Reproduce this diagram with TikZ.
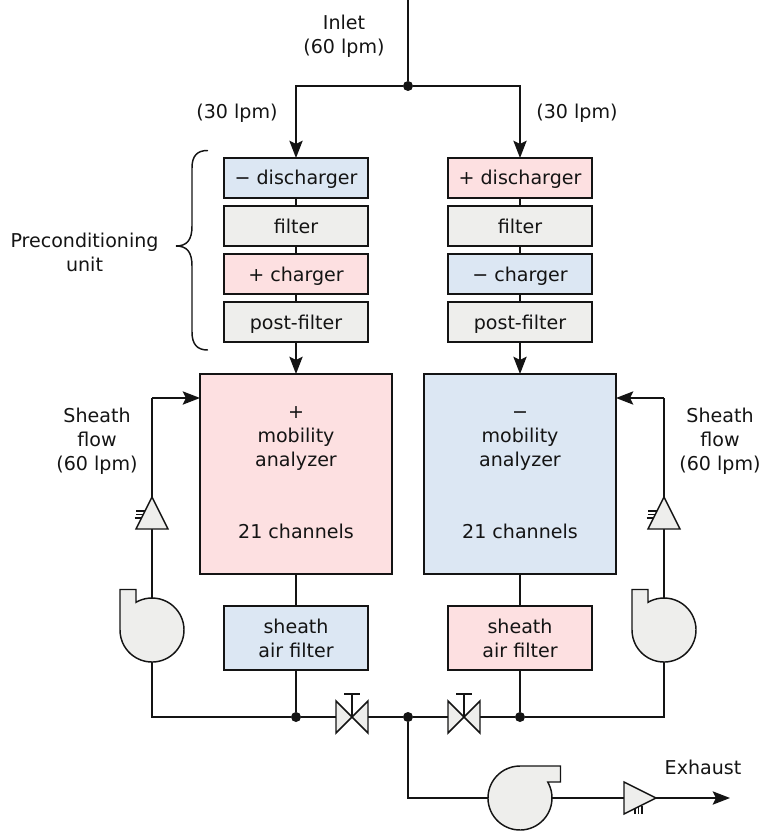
\documentclass[tikz,border=0pt]{standalone}
\usepackage{fontspec}
\setmainfont{DejaVu Sans}
\usetikzlibrary{arrows.meta,calc}
\definecolor{cblue}{HTML}{DCE7F3}
\definecolor{cpink}{HTML}{FDE0E1}
\definecolor{cgray}{HTML}{EEEEEC}
\definecolor{cink}{HTML}{141414}
\tikzset{
  every node/.style={font=\fontsize{14.3}{18}\selectfont,text=cink},
  line/.style={draw=cink,line width=1.1pt},
  flow/.style={line,-{Stealth[length=13pt,width=10pt,inset=2.5pt]}},
  boxbase/.style={line,minimum width=108pt,inner sep=0pt,outer sep=0pt},
  stage/.style={boxbase,minimum height=30pt,text height=11pt,text depth=0.5pt},
  sheathbox/.style={boxbase,minimum height=48pt,align=center},
  analyzer/.style={line,minimum width=144pt,minimum height=150pt,inner sep=0pt,outer sep=0pt,align=center},
  note/.style={align=center,inner sep=0pt},
  junction/.style={circle,fill=cink,draw=none,minimum size=7.5pt,inner sep=0pt,outer sep=0pt},
  device/.style={line,fill=cgray,line join=miter},
  thin tick/.style={draw=cink,line width=0.8pt},
}
\begin{document}
\begin{tikzpicture}[x=0.75pt,y=-0.75pt]
\useasboundingbox (0,0) rectangle (764,831);
% key points
\coordinate (top) at (408,0);
\coordinate (split) at (408,86);
\coordinate (pumpL) at (152,630);
\coordinate (pumpR) at (664,630);
\coordinate (pumpX) at (520,798);
\coordinate (fanL) at (152,513);
\coordinate (fanR) at (664,513);
\coordinate (fanX) at (640,798);
\coordinate (valveL) at (352,717);
\coordinate (valveR) at (464,717);
\coordinate (end) at (730,798);
\coordinate (elbowSL) at (152,398);
\coordinate (elbowSR) at (664,398);
\coordinate (inL) at (200,398);
\coordinate (inR) at (616,398);
\coordinate (elbowXa) at (408,798);
% stages
\node[stage,fill=cblue] (a1) at (296,178) {− discharger};
\node[stage,fill=cgray] (a2) at (296,226) {filter};
\node[stage,fill=cpink] (a3) at (296,274) {+ charger};
\node[stage,fill=cgray] (a4) at (296,322) {post-filter};
\node[stage,fill=cpink] (b1) at (520,178) {+ discharger};
\node[stage,fill=cgray] (b2) at (520,226) {filter};
\node[stage,fill=cblue] (b3) at (520,274) {− charger};
\node[stage,fill=cgray] (b4) at (520,322) {post-filter};
\node[analyzer,fill=cpink] (anL) at (296,474) {\strut+\\mobility\\analyzer\\ \\ \\21 channels\strut};
\node[analyzer,fill=cblue] (anR) at (520,474) {\strut−\\mobility\\analyzer\\ \\ \\21 channels\strut};
\node[sheathbox,fill=cblue] (shL) at (296,638) {sheath\\air filter};
\node[sheathbox,fill=cpink] (shR) at (520,638) {sheath\\air filter};
\node[junction] (jTop) at (split) {};
\node[junction] (jL) at (296,717) {};
\node[junction] (jM) at (408,717) {};
\node[junction] (jR) at (520,717) {};
% connectors
\draw[line] (top) -- (jTop);
\draw[flow] (jTop) -- (296,86) -- (a1.north);
\draw[flow] (jTop) -- (520,86) -- (b1.north);
\draw[line] (a1) -- (a2); \draw[line] (a2) -- (a3); \draw[line] (a3) -- (a4);
\draw[line] (b1) -- (b2); \draw[line] (b2) -- (b3); \draw[line] (b3) -- (b4);
\draw[flow] (a4.south) -- (a4.south |- anL.north);
\draw[flow] (b4.south) -- (b4.south |- anR.north);
\draw[line] (anL.south -| shL) -- (shL.north);
\draw[line] (anR.south -| shR) -- (shR.north);
\draw[line] (shL.south) -- (jL);
\draw[line] (shR.south) -- (jR);
\draw[line] (pumpL) |- (jL);
\draw[line] (pumpR) |- (jR);
\draw[line] (jL) -- (valveL) -- (jM) -- (valveR) -- (jR);
\draw[line] (jM) -- (elbowXa) -- (pumpX);
\draw[line] (pumpX) -- (fanX);
\draw[flow] (fanX) -- (end);
\draw[line] (pumpL) -- (elbowSL);
\draw[flow] (elbowSL) -- (inL);
\draw[line] (pumpR) -- (elbowSR);
\draw[flow] (elbowSR) -- (inR);
% pumps
\draw[device] (120,630) -- (120,589.5) -- (136,589.5) -- (136,602.3) arc[start angle=240,end angle=540,x radius=32,y radius=32] -- cycle;
\draw[device] (632,630) -- (632,589.5) -- (648,589.5) -- (648,602.3) arc[start angle=240,end angle=540,x radius=32,y radius=32] -- cycle;
\draw[device] (520,766) -- (560.5,766) -- (560.5,782) -- (547.7,782) arc[start angle=330,end angle=630,x radius=32,y radius=32] -- cycle;
% fans
\draw[thin tick] (136,511) -- (146,511) (136,514.5) -- (146,514.5) (134.5,518) -- (146,518);
\draw[device] (152,497) -- (168,529) -- (136,529) -- cycle;
\draw[thin tick] (648,511) -- (658,511) (648,514.5) -- (658,514.5) (646.5,518) -- (658,518);
\draw[device] (664,497) -- (680,529) -- (648,529) -- cycle;
\draw[thin tick] (635,806) -- (635,814) (638.5,806) -- (638.5,814) (642,806) -- (642,814);
\draw[device] (656,798) -- (624,814) -- (624,782) -- cycle;
% valves
\draw[line] (valveL) -- (352,694) (344,694) -- (360,694);
\draw[device] (336,701) -- (368,733) -- (368,701) -- (336,733) -- cycle;
\draw[line] (valveR) -- (464,694) (456,694) -- (472,694);
\draw[device] (448,701) -- (480,733) -- (480,701) -- (448,733) -- cycle;
% brace
\draw[line,line cap=round] (207.5,150.5) .. controls (197,150.5) and (192,156) .. (192,168)
  -- (192,226) .. controls (192,240) and (187,246) .. (176,246)
  .. controls (187,246) and (192,252) .. (192,266) -- (192,332)
  .. controls (192,344) and (197,350) .. (207.5,350);
% labels
\node[note] (lInlet) at (344,36) {Inlet\\(60 lpm)};
\node[note] (l30a) at (237,113.5) {(30 lpm)};
\node[note] (l30b) at (577,113.5) {(30 lpm)};
\node[note] (lPre) at (84.5,252) {Preconditioning\\unit};
\node[note] (lShL) at (97,441) {Sheath\\flow\\(60 lpm)};
\node[note] (lShR) at (720,441) {Sheath\\flow\\(60 lpm)};
\node[note] (lEx) at (703,767) {Exhaust};
\end{tikzpicture}
\end{document}
